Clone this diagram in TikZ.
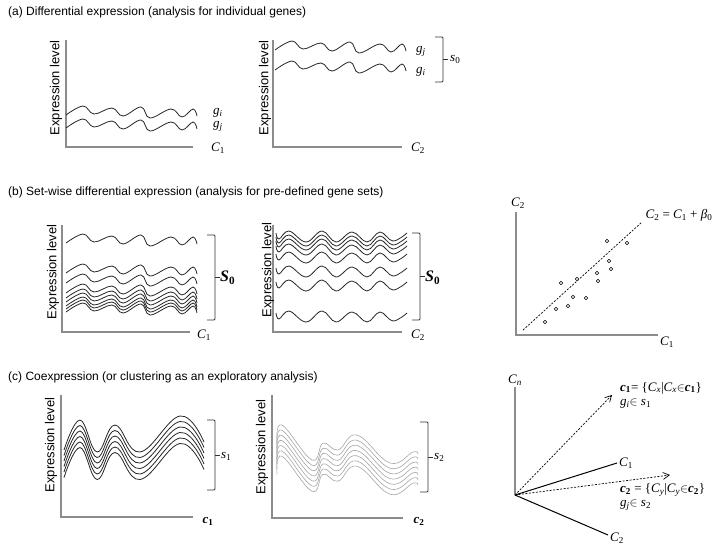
\documentclass[tikz,border=0pt]{standalone}
\usepackage{fontspec}
\setmainfont{Liberation Sans}
\newfontfamily\tmsf{Liberation Serif}
\usetikzlibrary{arrows.meta}
\tikzset{
geaxis/.style={draw=black!45,line width=1.5pt},
gecurve/.style={draw=black!85,line width=0.8pt},
gepale/.style={draw=black!35,line width=0.6pt},
gebrace/.style={draw=black!80,line width=0.8pt,rounded corners=1pt},
getitle/.style={anchor=west,font=\fontsize{12}{14}\selectfont,inner sep=0pt},
geylab/.style={rotate=90,font=\fontsize{13}{15}\selectfont,inner sep=0pt},
gelab/.style={font=\fontsize{13}{15}\selectfont,inner sep=0pt},
gebig/.style={font=\fontsize{16}{18}\selectfont,inner sep=0pt},
gevec/.style={draw=black,line width=1pt},
gedash/.style={dash pattern=on 2pt off 1.5pt,line width=0.7pt},
gearr/.style={gedash,-{Straight Barb[length=2.2mm,width=2.4mm]}},
gedot/.style={draw=black,line width=0.6pt,fill=white}
}
% labels in a serif face
\newcommand{\itl}[2]{{\tmsf\itshape #1\textsubscript{#2}}}
\newcommand{\bfl}[2]{{\tmsf\bfseries\itshape #1\textsubscript{\upshape #2}}}
\newcommand{\rmt}[1]{{\tmsf #1}}
% wave shapes, relative to the start point
\newcommand{\wavea}{plot[smooth,tension=0.65] coordinates {(0,0) (17,-9) (28,-1) (46,-7) (57,1) (75,-8) (84,3) (105,-6) (116,2) (127,-6) (131,1)}}
\newcommand{\waveb}{plot[smooth,tension=0.65] coordinates {(-1,-5) (2,1) (12,-7) (29,4) (45,-7) (59,4) (75,-6) (90,4) (103,-6) (116,3) (130,-5)}}
\newcommand{\wavec}{plot[smooth,tension=0.7] coordinates {(0,0) (16,-30) (33,2) (51,-25) (76,2) (116,-34) (140,-8)}}
\newcommand{\waved}{plot[smooth,tension=0.7] coordinates {(0,8) (5,-10) (35,25) (46,8) (61,15) (80,0) (113,28) (136,17) (141,19)}}
\newcommand{\setbrace}[3]{%
  \draw[gebrace] (#1,#2) -- ({#1+8},#2) -- ({#1+8},#3) -- (#1,#3);
  \draw[gebrace] ({#1+8},{(#2+#3)/2}) -- ++(5,0);}

\begin{document}
\begin{tikzpicture}[x=1pt,y=-1pt]
\useasboundingbox (0,0) rectangle (725,547);

%% (a)
\node[getitle] (tta) at (8,12) {(a) Differential expression (analysis for individual genes)};
\draw[geaxis] (66,40) -- (66,147) -- (193,147);
\node[geylab] (yla) at (56,88) {Expression level};
\draw[gecurve,shift={(66,115)}] \wavea;
\draw[gecurve,shift={(66,128)}] \wavea;
\node[gelab] (gia) at (218,113) {\itl{g}{i}};
\node[gelab] (gja) at (218,126) {\itl{g}{j}};
\node[gelab] (caa) at (218,148) {\itl{C}{\upshape 1}};

\draw[geaxis] (273,40) -- (273,147) -- (402,147);
\node[geylab] (ylb) at (265,88) {Expression level};
\draw[gecurve,shift={(275,50)}] \wavea;
\draw[gecurve,shift={(275,70)}] \wavea;
\node[gelab] (gjb) at (421,51) {\itl{g}{j}};
\node[gelab] (gib) at (421,72) {\itl{g}{i}};
\setbrace{435}{37}{82}
\node[gelab,anchor=west] (sza) at (450,59.5) {\itl{s}{\upshape 0}};
\node[gelab] (cab) at (418,148) {\itl{C}{\upshape 2}};

%% (b)
\node[getitle] (ttb) at (8,192) {(b) Set-wise differential expression (analysis for pre-defined gene sets)};
\draw[geaxis] (62,225) -- (62,332) -- (190,332);
\node[geylab] (ylc) at (53,272) {Expression level};
\foreach \yy in {243,273,283,293,298,302,306,309,312}
  \draw[gecurve,shift={(66,\yy)}] \wavea;
\setbrace{207}{235}{320}
\node[gebig,anchor=west] (szb) at (220,278) {\bfl{S}{0}};
\node[gelab] (cbb) at (204,335) {\itl{C}{\upshape 1}};

\draw[geaxis] (273,225) -- (273,332) -- (402,332);
\node[geylab] (yld) at (268,270) {Expression level};
\foreach \yy in {238,242,246,251,259,273,287,318}
  \draw[gecurve,shift={(277,\yy)}] \waveb;
\setbrace{412}{233}{320}
\node[gebig,anchor=west] (szc) at (425,278) {\bfl{S}{0}};
\node[gelab] (cbc) at (418,335) {\itl{C}{\upshape 2}};

\draw[geaxis] (516,212) -- (516,335) -- (658,335);
\node[gelab] (cyd) at (518,203) {\itl{C}{\upshape 2}};
\node[gelab] (cxd) at (667,342) {\itl{C}{\upshape 1}};
\coordinate (fitlo) at (523,330);
\coordinate (fithi) at (642,222);
\draw[gedash] (fitlo) -- (fithi);
\node[gelab] (fitlab) at (679,215) {\itl{C}{\upshape 2}\rmt{ = }\itl{C}{\upshape 1}\rmt{ + }\itl{β}{\upshape 0}};
\foreach \pt in {(607,241),(627,243),(609,261),(611,269),(597,273),(598,281),(561,283),(577,279),(573,297),(586,298),(556,309),(568,306),(545,322)}
  \draw[gedot] \pt circle (1.8);

%% (c)
\node[getitle] (ttc) at (8,377) {(c) Coexpression (or clustering as an exploratory analysis)};
\draw[geaxis] (61,395) -- (61,517) -- (193,517);
\node[geylab] (yle) at (51,445) {Expression level};
\foreach \yy in {450,455.5,461,466.5,472,477.5}
  \draw[gecurve,shift={(64,\yy)}] \wavec;
\setbrace{207}{420}{490}
\node[gelab,anchor=west] (sone) at (221,456) {\itl{s}{\upshape 1}};
\node[gelab] (cone) at (208,521) {\bfl{c}{1}};

\draw[geaxis] (272,395) -- (272,518) -- (403,518);
\node[geylab] (ylf) at (262,447) {Expression level};
\foreach \yy in {435,440.2,445.4,450.6,455.8,461,466.2}
  \draw[gepale,shift={(277,\yy)}] \waved;
\setbrace{420}{422}{492}
\node[gelab,anchor=west] (stwo) at (434,457) {\itl{s}{\upshape 2}};
\node[gelab] (ctwo) at (419,521) {\bfl{c}{2}};

\coordinate (orig) at (515,495);
\coordinate (cntop) at (515,387);
\coordinate (cvone) at (617,463);
\coordinate (cvtwo) at (608,535);
\coordinate (arone) at (612,395);
\coordinate (artwo) at (670,475);
\draw[geaxis] (orig) -- (cntop);
\draw[gevec] (orig) -- (cvone);
\draw[gevec] (orig) -- (cvtwo);
\draw[gearr] (orig) -- (arone);
\draw[gearr] (orig) -- (artwo);
\node[gelab] (cnl) at (515,380) {\itl{C}{n}};
\node[gelab,anchor=west] (conel) at (619,463) {\itl{C}{\upshape 1}};
\node[gelab,anchor=west] (ctwol) at (610,538) {\itl{C}{\upshape 2}};
\node[gelab,anchor=west] (setone) at (620,388) {\bfl{c}{1}\rmt{= \{}\itl{C}{x}\rmt{|}\itl{C}{x}$\in$\bfl{c}{1}\rmt{\}}};
\node[gelab,anchor=west] (memone) at (620,404) {\itl{g}{i}$\in$\rmt{ }\itl{s}{\upshape 1}};
\node[gelab,anchor=west] (settwo) at (620,490) {\bfl{c}{2}\rmt{ = \{}\itl{C}{y}\rmt{|}\itl{C}{y}$\in$\bfl{c}{2}\rmt{\}}};
\node[gelab,anchor=west] (memtwo) at (620,505) {\itl{g}{j}$\in$\rmt{ }\itl{s}{\upshape 2}};
\end{tikzpicture}
\end{document}
